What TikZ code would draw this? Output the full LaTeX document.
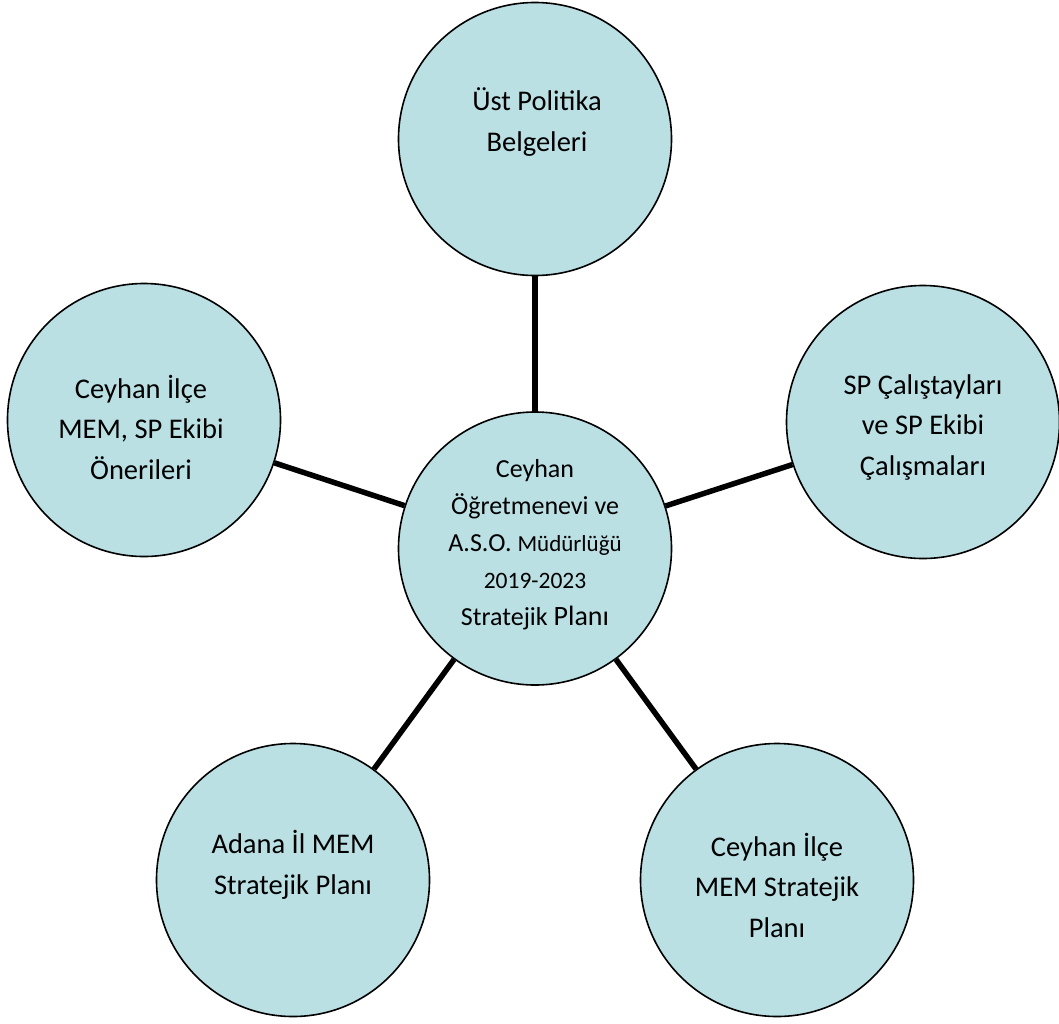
\documentclass[tikz,border=0pt]{standalone}
\usepackage{fontspec}
\setmainfont{Carlito}
\definecolor{circfill}{RGB}{186,224,228}
\tikzset{
  bubble/.style={circle, draw=black, line width=1.6pt, fill=circfill, minimum size=273pt, inner sep=0pt},
  btext/.style={align=center, font=\fontsize{28.5}{40.5}\selectfont, inner sep=0pt},
  ctext/.style={align=center, font=\fontsize{26}{37}\selectfont, inner sep=0pt},
  link/.style={line width=5.5pt, black}
}
\begin{document}
\begin{tikzpicture}[x=1pt,y=-1pt]
\useasboundingbox (0,0) rectangle (1059,1023);
% circles
\node[bubble] (top) at (535,139) {};
\node[bubble] (mid) at (535,548.5) {};
\node[bubble] (left) at (144,420) {};
\node[bubble] (right) at (923,422) {};
\node[bubble] (bl) at (293,880) {};
\node[bubble] (br) at (777,880) {};
% connectors
\draw[link] (top) -- (mid);
\draw[link] (left) -- (mid);
\draw[link] (right) -- (mid);
\draw[link] (bl) -- (mid);
\draw[link] (br) -- (mid);
% texts
\node[btext] (ttop) at (537,122) {Üst Politika\\Belgeleri};
\node[btext] (tleft) at (141,427) {Ceyhan İlçe\\MEM, SP Ekibi\\Önerileri};
\node[btext] (tright) at (923,427) {SP Çalıştayları\\ve SP Ekibi\\Çalışmaları};
\node[btext] (tbl) at (293,865) {Adana İl MEM\\Stratejik Planı};
\node[btext] (tbr) at (777,885) {Ceyhan İlçe\\MEM Stratejik\\Planı};
\node[ctext] (tmid) at (535,545) {Ceyhan\\Öğretmenevi ve\\A.S.O. {\fontsize{23}{37}\selectfont Müdürlüğü}\\{\fontsize{23.5}{37}\selectfont 2019-2023}\\Stratejik {\fontsize{28}{37}\selectfont Planı}};
\end{tikzpicture}
\end{document}
